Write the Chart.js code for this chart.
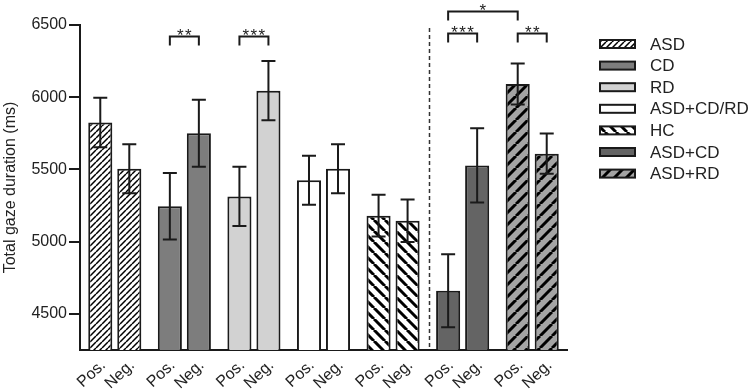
<!DOCTYPE html>
<html><head><meta charset="utf-8">
<script src="https://cdn.jsdelivr.net/npm/chart.js@4.4.0/dist/chart.umd.min.js"></script>
<style>html,body{margin:0;padding:0;background:#fff;}</style>
</head><body>
<canvas id="c" width="749" height="391"></canvas>
<script>
// ---- data ----
const groups = ['ASD', 'CD', 'RD', 'ASD+CD/RD', 'HC', 'ASD+CD', 'ASD+RD'];
const valenceLabels = ['Pos.', 'Neg.'];
const posMean = [5825, 5245, 5313, 5425, 5180, 4660, 6092];
const posErr  = [172, 230, 205, 170, 145, 253, 142];
const negMean = [5505, 5750, 6045, 5505, 5145, 5528, 5609];
const negErr  = [170, 232, 205, 170, 147, 257, 139];
const yTicks = [4500, 5000, 5500, 6000, 6500];
const yMin = 4250, yMax = 6500;
const yTitle = 'Total gaze duration (ms)';
// significance brackets: from (group, bar) to (group, bar), text, level in ms
const sigFromGroup = [1, 2, 5, 6, 5];
const sigFromBar   = [0, 0, 0, 0, 0];
const sigToGroup   = [1, 2, 5, 6, 6];
const sigToBar     = [1, 1, 1, 1, 0];
const sigText      = ['**', '***', '***', '**', '*'];
const sigLevel     = [6424, 6424, 6442, 6442, 6597];
const dividerAfterGroup = 4;

// ---- styles ----
const FONT = 'Liberation Sans, Arial, sans-serif';
const INK = '#1a1a1a';
function stripes(bg, dir, period, lw) {
  const c = document.createElement('canvas');
  c.width = c.height = period;
  const g = c.getContext('2d');
  g.fillStyle = bg; g.fillRect(0, 0, period, period);
  g.strokeStyle = '#000'; g.lineWidth = lw;
  g.beginPath();
  for (let k = -1; k <= 1; k++) {
    if (dir === '/') { g.moveTo(k * period, period); g.lineTo(k * period + period, 0); }
    else { g.moveTo(k * period, 0); g.lineTo(k * period + period, period); }
  }
  g.stroke();
  return document.getElementById('c').getContext('2d').createPattern(c, 'repeat');
}
const fills = [
  stripes('#ffffff', '/', 6, 1.5),
  '#7d7d7d',
  '#d2d2d2',
  '#ffffff',
  stripes('#ffffff', '\\', 11, 3),
  '#646464',
  stripes('#a4a4a4', '/', 12, 3)
];

const annot = {
  id: 'annot',
  afterDatasetsDraw(chart) {
    const ctx = chart.ctx, y = chart.scales.y, x = chart.scales.x, ca = chart.chartArea;
    const metas = [chart.getDatasetMeta(0), chart.getDatasetMeta(1)];
    const means = [posMean, negMean], errs = [posErr, negErr];
    ctx.save();
    // error bars
    ctx.strokeStyle = INK; ctx.lineWidth = 2; ctx.lineCap = 'butt';
    metas.forEach((m, d) => m.data.forEach((bar, i) => {
      const t = y.getPixelForValue(means[d][i] + errs[d][i]);
      const b = y.getPixelForValue(means[d][i] - errs[d][i]);
      ctx.beginPath();
      ctx.moveTo(bar.x, t); ctx.lineTo(bar.x, b);
      ctx.moveTo(bar.x - 7, t); ctx.lineTo(bar.x + 7, t);
      ctx.moveTo(bar.x - 7, b); ctx.lineTo(bar.x + 7, b);
      ctx.stroke();
    }));
    // divider
    const dx = Math.round(x.getPixelForValue(dividerAfterGroup + 0.5)) + 1.5;
    ctx.setLineDash([4, 3]); ctx.lineWidth = 1.5; ctx.strokeStyle = '#333';
    ctx.beginPath(); ctx.moveTo(dx, ca.top + 3); ctx.lineTo(dx, ca.bottom); ctx.stroke();
    ctx.setLineDash([]);
    // significance brackets
    ctx.strokeStyle = INK; ctx.lineWidth = 2;
    ctx.fillStyle = '#222'; ctx.font = '17px ' + FONT; ctx.textAlign = 'center'; ctx.textBaseline = 'alphabetic';
    sigText.forEach((txt, k) => {
      const x1 = metas[sigFromBar[k]].data[sigFromGroup[k]].x;
      const x2 = metas[sigToBar[k]].data[sigToGroup[k]].x;
      const yy = Math.round(y.getPixelForValue(sigLevel[k])) + 0.5;
      const leg = 9;
      ctx.beginPath();
      ctx.moveTo(x1, yy + leg); ctx.lineTo(x1, yy); ctx.lineTo(x2, yy); ctx.lineTo(x2, yy + leg);
      ctx.stroke();
      const cx = (x1 + x2) / 2, n = txt.length, sp = 8;
      for (let s = 0; s < n; s++) ctx.fillText('*', cx + (s - (n - 1) / 2) * sp, yy + 4);
    });
    // per-bar x labels
    ctx.fillStyle = '#222'; ctx.font = '16px ' + FONT; ctx.textAlign = 'right'; ctx.textBaseline = 'middle';
    metas.forEach((m, d) => m.data.forEach(bar => {
      ctx.save();
      ctx.translate(bar.x + 3, ca.bottom + 13);
      ctx.rotate(-43 * Math.PI / 180);
      ctx.fillText(valenceLabels[d], 0, 0);
      ctx.restore();
    }));
    // legend
    const lx = 600, ly0 = 44, step = 21.6;
    ctx.font = '17px ' + FONT; ctx.textAlign = 'left'; ctx.textBaseline = 'middle'; ctx.fillStyle = '#222';
    groups.forEach((g, i) => {
      const cy = ly0 + i * step;
      ctx.fillStyle = fills[i];
      ctx.fillRect(lx, cy - 4, 35, 8);
      ctx.strokeStyle = INK; ctx.lineWidth = 2;
      ctx.strokeRect(lx, cy - 4, 35, 8);
      ctx.fillStyle = '#222';
      ctx.fillText(g, lx + 50, cy + 1);
    });
    ctx.restore();
  }
};

new Chart(document.getElementById('c'), {
  type: 'bar',
  data: {
    labels: groups,
    datasets: [
      { label: valenceLabels[0], data: posMean, backgroundColor: fills, borderColor: INK, borderWidth: 2, borderSkipped: false,
        categoryPercentage: 0.834, barPercentage: 0.83 },
      { label: valenceLabels[1], data: negMean, backgroundColor: fills, borderColor: INK, borderWidth: 2, borderSkipped: false,
        categoryPercentage: 0.834, barPercentage: 0.83 }
    ]
  },
  options: {
    responsive: false,
    animation: false,
    layout: { padding: { top: 25, right: 182, bottom: 41, left: 0 } },
    plugins: { legend: { display: false }, tooltip: { enabled: false } },
    scales: {
      x: {
        grid: { display: false, drawTicks: false },
        border: { display: true, color: INK, width: 2 },
        ticks: { display: false }
      },
      y: {
        min: yMin, max: yMax,
        afterBuildTicks: s => { s.ticks = yTicks.map(v => ({ value: v })); },
        afterFit: s => { s.width = 80; },
        grid: { drawOnChartArea: false, drawTicks: true, tickLength: 11, color: INK, lineWidth: 2 },
        border: { display: true, color: INK, width: 2 },
        ticks: { font: { family: FONT, size: 16 }, color: '#222', padding: 2, callback: v => String(v) },
        title: { display: true, text: yTitle, font: { family: FONT, size: 16 }, color: '#222', padding: { top: 1, bottom: 0 } }
      }
    }
  },
  plugins: [annot]
});
</script>
</body></html>
